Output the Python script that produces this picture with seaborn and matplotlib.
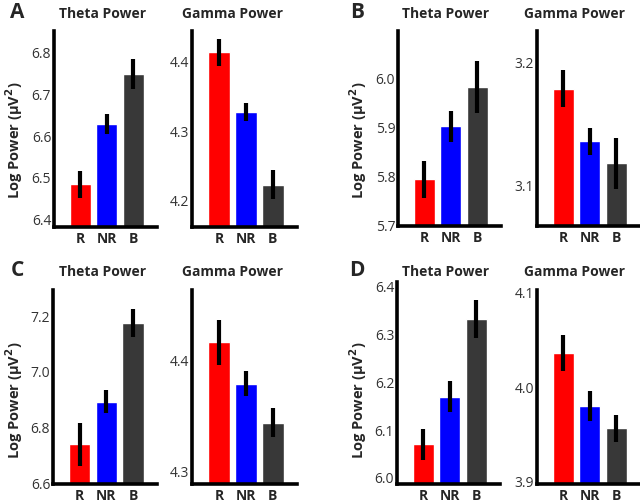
import matplotlib
matplotlib.use("Agg")
import matplotlib.pyplot as plt
import seaborn as sns
import pandas as pd

sns.set_theme(style="white")
plt.rcParams['font.family'] = ['Open Sans', 'DejaVu Sans']

categories = ["R", "NR", "B"]
bar_colors = ["#ff0000", "#0000ff", "#383838"]

# Panel A
a_theta = [6.482, 6.628, 6.748]
a_theta_err = [0.032, 0.024, 0.036]
a_gamma = [4.412, 4.326, 4.221]
a_gamma_err = [0.019, 0.013, 0.021]
# Panel B
b_theta = [5.792, 5.900, 5.980]
b_theta_err = [0.038, 0.031, 0.052]
b_gamma = [3.178, 3.135, 3.117]
b_gamma_err = [0.015, 0.011, 0.021]
# Panel C
c_theta = [6.736, 6.889, 7.171]
c_theta_err = [0.077, 0.040, 0.050]
c_gamma = [4.415, 4.378, 4.343]
c_gamma_err = [0.020, 0.011, 0.013]
# Panel D
d_theta = [6.068, 6.168, 6.330]
d_theta_err = [0.033, 0.032, 0.040]
d_gamma = [4.035, 3.979, 3.955]
d_gamma_err = [0.019, 0.016, 0.014]

a_theta_ticks = [6.4, 6.5, 6.6, 6.7, 6.8]
a_gamma_ticks = [4.2, 4.3, 4.4]
b_theta_ticks = [5.7, 5.8, 5.9, 6.0]
b_gamma_ticks = [3.1, 3.2]
c_theta_ticks = [6.6, 6.8, 7.0, 7.2]
c_gamma_ticks = [4.3, 4.4]
d_theta_ticks = [6.0, 6.1, 6.2, 6.3, 6.4]
d_gamma_ticks = [3.9, 4.0, 4.1]

W, H = 640, 502
fig = plt.figure(figsize=(W / 100, H / 100), dpi=100)


def make_ax(x0, x1, y0, y1):
    return fig.add_axes([x0 / W, 1 - y1 / H, (x1 - x0) / W, (y1 - y0) / H])


panels = [
    # (pixel box, values, errs, ylim, ticks, title, title center (x, y), ylabel center (x, y) or None)
    ((54, 157, 32, 228), a_theta, a_theta_err, (6.38, 6.85), a_theta_ticks, "Theta Power", (103, 14), (14, 140)),
    ((192, 297, 32, 228), a_gamma, a_gamma_err, (4.16, 4.443), a_gamma_ticks, "Gamma Power", (232, 14), None),
    ((398, 501, 32, 227), b_theta, b_theta_err, (5.697, 6.094), b_theta_ticks, "Theta Power", (446, 14), (358, 140)),
    ((537, 640, 32, 227), b_gamma, b_gamma_err, (3.066, 3.225), b_gamma_ticks, "Gamma Power", (575, 14), None),
    ((53, 157, 291, 485), c_theta, c_theta_err, (6.593, 7.29), c_theta_ticks, "Theta Power", (103, 272), (14, 400)),
    ((192, 297, 291, 485), c_gamma, c_gamma_err, (4.288, 4.462), c_gamma_ticks, "Gamma Power", (232, 272), None),
    ((397, 500, 283, 485), d_theta, d_theta_err, (5.985, 6.408), d_theta_ticks, "Theta Power", (446, 272), (358, 400)),
    ((537, 640, 291, 485), d_gamma, d_gamma_err, (3.896, 4.102), d_gamma_ticks, "Gamma Power", (575, 272), None),
]

for box, vals, errs, ylim, ticks, title, tpos, lpos in panels:
    x0, x1, y0, y1 = box
    ax = make_ax(x0, x1, y0, y1)
    df = pd.DataFrame({"cond": categories, "val": vals})
    sns.barplot(data=df, x="cond", y="val", hue="cond", palette=bar_colors,
                order=categories, hue_order=categories, errorbar=None,
                width=0.8, legend=False, ax=ax, saturation=1)
    ax.errorbar(range(len(categories)), vals, yerr=errs, fmt="none",
                ecolor="black", elinewidth=3, capsize=0, zorder=5)
    ax.set_xlim(-1.0, 2.9)
    ax.set_ylim(*ylim)
    ax.set_yticks(ticks)
    ax.set_yticklabels(["{:.1f}".format(t) for t in ticks])
    ax.set_xlabel("")
    ax.set_ylabel("")
    for s in ["top", "right"]:
        ax.spines[s].set_visible(False)
    for s in ["left", "bottom"]:
        ax.spines[s].set_linewidth(2.6)
        ax.spines[s].set_color("black")
        ax.spines[s].set_capstyle("projecting")
    ax.tick_params(axis="y", length=0, pad=2, labelsize=10, labelcolor="#333333")
    ax.tick_params(axis="x", length=0, pad=3, labelsize=10)
    for lab in ax.get_xticklabels():
        lab.set_fontweight("bold")
    ax.set_facecolor("none")
    fig.text(tpos[0] / W, 1 - tpos[1] / H, title, ha="center", va="center",
             fontsize=10, fontweight="bold")
    if lpos is not None:
        fig.text(lpos[0] / W, 1 - lpos[1] / H, "Log Power (\u03bcV$^{\\mathbf{2}}$)",
                 rotation=90, ha="center", va="center",
                 fontsize=10.5, fontweight="bold")

letters = [("A", 17, 12), ("B", 357, 12), ("C", 17, 271), ("D", 357, 271)]
for t, lx, ly in letters:
    fig.text(lx / W, 1 - ly / H, t, ha="center", va="center",
             fontsize=15, fontweight="bold")

fig.savefig("out.png", dpi=100)
